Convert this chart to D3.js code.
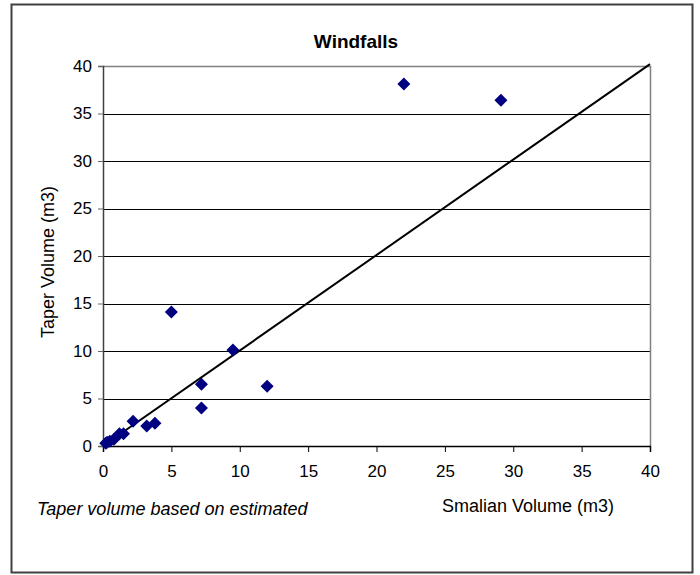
<!DOCTYPE html>
<html><head><meta charset="utf-8">
<script src="https://cdn.jsdelivr.net/npm/d3@7"></script>
<style>body{margin:0;background:#fff}svg{display:block}text{font-family:"Liberation Sans",Arial,sans-serif}</style>
</head><body><svg id="c" width="700" height="575"></svg>
<script>
const smalian = [22.0, 29.1, 5.0, 9.5, 7.2, 7.2, 12.0, 2.2, 3.2, 3.8, 1.2, 1.5, 0.8, 0.3, 0.5, 0.2];
const taper   = [38.1, 36.4, 14.1, 10.1, 6.5, 4.0, 6.3, 2.6, 2.1, 2.4, 1.3, 1.3, 0.7, 0.4, 0.5, 0.3];
const lineX = [0, 40];
const lineY = [0, 40.2];
const xTicks = [0,5,10,15,20,25,30,35,40];
const yTicks = [0,5,10,15,20,25,30,35,40];
const title = "Windfalls", xTitle = "Smalian Volume (m3)", yTitle = "Taper Volume (m3)";
const note = "Taper volume based on estimated";

const svg = d3.select("#c");
const L=103, R=650, T=66, B=446;
const x = d3.scaleLinear().domain([0,40]).range([L,R]);
const y = d3.scaleLinear().domain([0,40]).range([B,T]);

svg.append("rect").attr("x",11.5).attr("y",4.5).attr("width",681).attr("height",568)
  .attr("fill","#fff").attr("stroke","#404040").attr("stroke-width",2);

// gridlines
svg.append("g").selectAll("line").data(yTicks.filter(d=>d>0&&d<40)).join("line")
  .attr("x1",L).attr("x2",R).attr("y1",d=>Math.round(y(d))+0.5).attr("y2",d=>Math.round(y(d))+0.5)
  .attr("stroke","#000").attr("stroke-width",1);
// plot border top/right grey
svg.append("path").attr("d",`M${L},${T+0.5}H${R+0.5}V${B}`).attr("fill","none").attr("stroke","#808080").attr("stroke-width",1.5);

// axes
const ya = svg.append("g").attr("transform",`translate(${L},0)`)
  .call(d3.axisLeft(y).tickValues(yTicks).tickSize(5).tickPadding(6));
const xa = svg.append("g").attr("transform",`translate(0,${B})`)
  .call(d3.axisBottom(x).tickValues(xTicks).tickSize(6).tickPadding(13));
[ya,xa].forEach(a=>{
  a.selectAll("text").attr("font-size",17).attr("fill","#000").attr("font-family","'Liberation Sans',Arial,sans-serif");
  a.selectAll("line").attr("stroke","#000");
  a.select(".domain").attr("stroke","#404040").attr("stroke-width",1.5);
});
ya.selectAll(".tick line").attr("stroke","#666");
xa.select(".domain").attr("stroke","#000");

// trend line
svg.append("line").attr("x1",x(lineX[0])).attr("y1",y(lineY[0])).attr("x2",x(lineX[1])).attr("y2",y(lineY[1]))
  .attr("stroke","#000").attr("stroke-width",2);

// points
const pts = smalian.map((v,i)=>[v,taper[i]]);
svg.append("g").selectAll("path").data(pts).join("path")
  .attr("transform",d=>`translate(${x(d[0])},${y(d[1])})`)
  .attr("d","M0,-6.5L6.5,0L0,6.5L-6.5,0Z").attr("fill","#000080");

// texts
svg.append("text").attr("x",356).attr("y",48).attr("text-anchor","middle").attr("font-size",19).attr("font-weight","bold").text(title);
svg.append("text").attr("transform","translate(54,262) rotate(-90)").attr("text-anchor","middle").attr("font-size",18).text(yTitle);
svg.append("text").attr("x",528).attr("y",512).attr("text-anchor","middle").attr("font-size",18).text(xTitle);
svg.append("text").attr("x",37).attr("y",515).attr("font-size",18).attr("font-style","italic").text(note);
</script></body></html>
